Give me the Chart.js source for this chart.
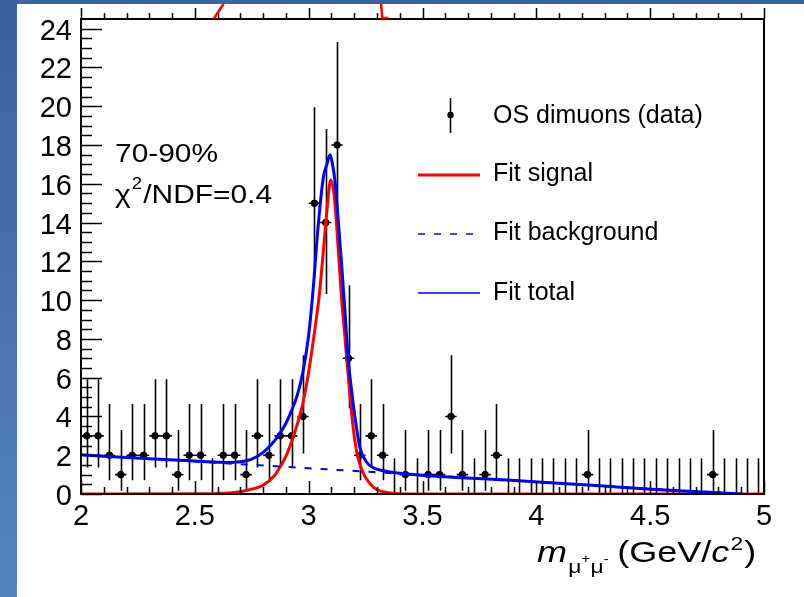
<!DOCTYPE html>
<html>
<head>
<meta charset="utf-8">
<script src="https://cdn.jsdelivr.net/npm/chart.js@4.4.0/dist/chart.umd.min.js"></script>
<style>
  html, body { margin: 0; padding: 0; background: #ffffff; }
  #wrap { position: relative; width: 804px; height: 597px; overflow: hidden; }
  #stripLeft { position: absolute; left: 0; top: 0; width: 17px; height: 597px;
               background: linear-gradient(#3a62a0, #5683bd); }
  #stripTop { position: absolute; left: 0; top: 0; width: 804px; height: 4px; background: #3a64a0; }
  canvas { position: absolute; left: 0; top: 0; }
</style>
</head>
<body>
<div id="wrap">
  <div id="stripLeft"></div>
  <div id="stripTop"></div>
  <canvas id="chartMasa" width="804" height="597"></canvas>
</div>
<script>
// ===== Invariant mass histogram, 70-90% =====

// histogram bins (centres) and counts
const binWidth = 0.05;
const binCenters = [
    2.025, 2.075, 2.125, 2.175, 2.225, 2.275, 2.325, 2.375, 2.425, 2.475,
    2.525, 2.575, 2.625, 2.675, 2.725, 2.775, 2.825, 2.875, 2.925, 2.975,
    3.025, 3.075, 3.125, 3.175, 3.225, 3.275, 3.325, 3.375, 3.425, 3.475,
    3.525, 3.575, 3.625, 3.675, 3.725, 3.775, 3.825, 3.875, 3.925, 3.975,
    4.025, 4.075, 4.125, 4.175, 4.225, 4.275, 4.325, 4.375, 4.425, 4.475,
    4.525, 4.575, 4.625, 4.675, 4.725, 4.775, 4.825, 4.875, 4.925, 4.975
];
const counts = [
    3, 3, 2, 1, 2, 2, 3, 3, 1, 2,
    2, 0, 2, 2, 1, 3, 2, 3, 3, 4,
    15, 14, 18, 7, 2, 3, 2, 0, 1, 0,
    1, 1, 4, 1, 0, 1, 2, 0, 0, 0,
    0, 0, 0, 0, 1, 0, 0, 0, 0, 0,
    0, 0, 0, 0, 0, 1, 0, 0, 0, 0
];

// Poisson 68% intervals for the counts that appear
const poissonLo = { 0: 0, 1: 0.17, 2: 0.71, 3: 1.37, 4: 2.09, 7: 4.42, 14: 10.31, 15: 11.17, 18: 13.80 };
const poissonHi = { 0: 1.84, 1: 3.30, 2: 4.64, 3: 5.92, 4: 7.16, 7: 10.77, 14: 18.83, 15: 19.95, 18: 23.32 };

// Fit signal (red)
const signalX = [2.0, 2.5, 2.6, 2.65, 2.7, 2.75, 2.8, 2.85, 2.875, 2.9, 2.925, 2.95, 2.975, 3.0,
                 3.025, 3.047, 3.065, 3.08, 3.097, 3.113, 3.13, 3.145, 3.157, 3.167,
                 3.18, 3.19, 3.2, 3.214, 3.232, 3.25, 3.28, 3.3, 3.35, 3.4, 3.5, 5.0];
const signalY = [0, 0.01, 0.03, 0.05, 0.12, 0.25, 0.45, 0.95, 1.4, 1.95, 2.7, 3.6, 4.7, 6.3,
                 8.3, 10.3, 12.6, 14.6, 16.2, 15.3, 12.6, 10.0, 8.4, 7.0,
                 5.3, 4.0, 3.0, 2.0, 1.3, 0.85, 0.4, 0.22, 0.06, 0.01, 0, 0];

// Fit background (blue dashed)
const bkgX = [2.0, 2.5, 3.0, 3.5, 4.0, 4.5, 4.9];
const bkgY = [2.02, 1.68, 1.33, 0.98, 0.63, 0.27, 0.0];

// Fit total (blue)
const totalX = [2.0, 2.3, 2.5, 2.6, 2.65, 2.7, 2.75, 2.8, 2.85, 2.875, 2.9, 2.925, 2.95, 2.975,
                3.0, 3.02, 3.04, 3.064, 3.08, 3.094, 3.105, 3.116, 3.13, 3.145, 3.16, 3.174,
                3.19, 3.203, 3.225, 3.254, 3.28, 3.313, 3.4, 3.87, 4.28, 4.54, 4.9];
const totalY = [2.02, 1.82, 1.70, 1.64, 1.62, 1.66, 1.80, 2.15, 2.75, 3.15, 3.65, 4.3, 5.1, 6.3,
                8.2, 10.6, 13.6, 16.3, 17.0, 17.5, 17.0, 16.1, 14.1, 11.8, 9.3, 6.9,
                5.2, 4.0, 2.4, 1.65, 1.38, 1.24, 1.07, 0.72, 0.42, 0.22, 0.0];

// pieces of the red curve of the panel above (x values)
const upperRedLeft = [2.582, 2.626];
const upperRedRight = [3.318, 3.323, 3.35];

const fuente = '"Liberation Sans", Arial, Helvetica, sans-serif';

function pares(xs, ys) {
    return xs.map((x, i) => ({ x: x, y: ys[i] }));
}

// Plugin: error bars, frame, ROOT-like ticks, legend and labels
const estiloRoot = {
    id: 'estiloRoot',
    beforeDatasetsDraw(chart) {
        const ctx = chart.ctx;
        const xs = chart.scales.x, ys = chart.scales.y;
        ctx.save();
        ctx.strokeStyle = '#000';
        ctx.lineWidth = 1.6;
        binCenters.forEach((c, i) => {
            const n = counts[i];
            const px = Math.round(xs.getPixelForValue(c)) + 0.5;
            ctx.beginPath();
            ctx.moveTo(px, ys.getPixelForValue(poissonLo[n]));
            ctx.lineTo(px, ys.getPixelForValue(poissonHi[n]));
            if (n > 0) {
                const py = ys.getPixelForValue(n);
                ctx.moveTo(xs.getPixelForValue(c - binWidth / 2), py);
                ctx.lineTo(xs.getPixelForValue(c + binWidth / 2), py);
            }
            ctx.stroke();
        });
        ctx.restore();
    },
    afterDatasetsDraw(chart) {
        const ctx = chart.ctx;
        const a = chart.chartArea;
        const xs = chart.scales.x, ys = chart.scales.y;
        ctx.save();
        ctx.strokeStyle = '#000';
        ctx.lineWidth = 1.5;
        // y ticks
        for (let k = 0; k <= 48; k++) {
            const py = Math.round(ys.getPixelForValue(k * 0.5)) + 0.5;
            const len = k % 4 === 0 ? 21 : 11;
            ctx.beginPath();
            ctx.moveTo(a.left, py);
            ctx.lineTo(a.left + len, py);
            ctx.stroke();
        }
        // x ticks (bottom, up) and ticks of the panel above
        for (let k = 0; k <= 30; k++) {
            const px = Math.round(xs.getPixelForValue(2 + k * 0.1)) + 0.5;
            const major = k % 5 === 0;
            ctx.beginPath();
            ctx.moveTo(px, a.bottom);
            ctx.lineTo(px, a.bottom - (major ? 13 : 7));
            ctx.moveTo(px, a.top);
            ctx.lineTo(px, a.top - (major ? 11 : 6));
            ctx.stroke();
        }
        // frame
        ctx.lineWidth = 2;
        ctx.strokeRect(a.left, a.top, a.right - a.left, a.bottom - a.top);
        // red curve of the panel above
        ctx.strokeStyle = '#ff0000';
        ctx.lineWidth = 2.5;
        ctx.beginPath();
        ctx.moveTo(xs.getPixelForValue(upperRedLeft[0]), a.top);
        ctx.lineTo(xs.getPixelForValue(upperRedLeft[1]), 4);
        ctx.stroke();
        ctx.beginPath();
        ctx.moveTo(xs.getPixelForValue(upperRedRight[0]), 4);
        ctx.lineTo(xs.getPixelForValue(upperRedRight[1]), a.top - 1);
        ctx.lineTo(xs.getPixelForValue(upperRedRight[2]), a.top - 1);
        ctx.stroke();
        ctx.restore();
    },
    afterDraw(chart) {
        const ctx = chart.ctx;
        ctx.save();
        ctx.fillStyle = '#000';
        ctx.textBaseline = 'alphabetic';

        // Leyenda
        ctx.font = '25px ' + fuente;
        ctx.strokeStyle = '#000';
        ctx.lineWidth = 1.6;
        ctx.beginPath();
        ctx.moveTo(450.5, 98);
        ctx.lineTo(450.5, 133);
        ctx.stroke();
        ctx.beginPath();
        ctx.arc(450.5, 115, 3.2, 0, Math.PI * 2);
        ctx.fill();
        ctx.fillText('OS dimuons (data)', 493, 123);

        ctx.strokeStyle = '#ff0000';
        ctx.lineWidth = 3;
        ctx.beginPath();
        ctx.moveTo(418, 175);
        ctx.lineTo(480, 175);
        ctx.stroke();
        ctx.fillText('Fit signal', 493, 181);

        ctx.strokeStyle = '#0000ff';
        ctx.lineWidth = 1.6;
        ctx.setLineDash([7, 9]);
        ctx.beginPath();
        ctx.moveTo(418, 234);
        ctx.lineTo(480, 234);
        ctx.stroke();
        ctx.setLineDash([]);
        ctx.fillText('Fit background', 493, 240);

        ctx.beginPath();
        ctx.moveTo(418, 293);
        ctx.lineTo(480, 293);
        ctx.stroke();
        ctx.fillText('Fit total', 493, 300);

        // Centrality and fit quality (ROOT text is a bit wider)
        ctx.save();
        ctx.translate(115, 0);
        ctx.scale(1.15, 1);
        ctx.font = '26px ' + fuente;
        ctx.fillText('70-90%', 0, 162);
        let x = 0;
        ctx.fillText('\u03c7', x, 203);
        x += ctx.measureText('\u03c7').width + 1;
        ctx.font = '16px ' + fuente;
        ctx.fillText('2', x, 189);
        x += ctx.measureText('2').width + 1;
        ctx.font = '26px ' + fuente;
        ctx.fillText('/NDF=0.4', x, 203);
        ctx.restore();

        // Axis title
        ctx.save();
        ctx.translate(537, 0);
        ctx.scale(1.2, 1);
        x = 0;
        const base = 562;
        ctx.font = 'italic 30px ' + fuente;
        ctx.fillText('m', x, base);
        x += ctx.measureText('m').width + 1;
        ctx.font = '19px ' + fuente;
        ctx.fillText('\u03bc', x, base + 11);
        x += ctx.measureText('\u03bc').width;
        ctx.font = '13px ' + fuente;
        ctx.fillText('+', x, base + 1);
        x += ctx.measureText('+').width;
        ctx.font = '19px ' + fuente;
        ctx.fillText('\u03bc', x, base + 11);
        x += ctx.measureText('\u03bc').width;
        ctx.font = '13px ' + fuente;
        ctx.fillText('-', x, base + 1);
        x += ctx.measureText('-').width + 7;
        ctx.font = '30px ' + fuente;
        ctx.fillText('(GeV/', x, base);
        x += ctx.measureText('(GeV/').width;
        ctx.font = 'italic 30px ' + fuente;
        ctx.fillText('c', x, base);
        x += ctx.measureText('c').width + 1;
        ctx.font = '19px ' + fuente;
        ctx.fillText('2', x, base - 12);
        x += ctx.measureText('2').width + 1;
        ctx.font = '30px ' + fuente;
        ctx.fillText(')', x, base);
        ctx.restore();
        ctx.restore();
    }
};

document.addEventListener('DOMContentLoaded', function() {
    const ctxMasa = document.getElementById('chartMasa');
    new Chart(ctxMasa, {
        type: 'scatter',
        data: {
            datasets: [
                {
                    label: 'Fit total',
                    type: 'line',
                    data: pares(totalX, totalY),
                    borderColor: '#0000ff',
                    borderWidth: 3,
                    pointRadius: 0,
                    fill: false,
                    cubicInterpolationMode: 'monotone',
                    order: 0
                },
                {
                    label: 'Fit background',
                    type: 'line',
                    data: pares(bkgX, bkgY),
                    borderColor: '#0000ff',
                    borderWidth: 2,
                    borderDash: [7, 9],
                    pointRadius: 0,
                    fill: false,
                    order: 1
                },
                {
                    label: 'Fit signal',
                    type: 'line',
                    data: pares(signalX, signalY),
                    borderColor: '#ff0000',
                    borderWidth: 3,
                    pointRadius: 0,
                    fill: false,
                    cubicInterpolationMode: 'monotone',
                    order: 2
                },
                {
                    label: 'OS dimuons (data)',
                    data: pares(binCenters, counts),
                    backgroundColor: '#000',
                    borderColor: '#000',
                    pointRadius: function(context) {
                        return counts[context.dataIndex] > 0 ? 3.3 : 0;
                    },
                    pointHoverRadius: 0,
                    order: 3
                }
            ]
        },
        options: {
            responsive: false,
            animation: false,
            events: [],
            layout: { padding: { top: 19, right: 40, left: 0, bottom: 0 } },
            plugins: {
                legend: { display: false },
                tooltip: { enabled: false }
            },
            scales: {
                x: {
                    type: 'linear',
                    min: 2,
                    max: 5,
                    grid: { display: false, drawTicks: false },
                    border: { display: false },
                    ticks: {
                        stepSize: 0.5,
                        includeBounds: false,
                        color: '#000',
                        padding: 6,
                        maxRotation: 0,
                        font: { family: fuente, size: 29 },
                        callback: function(value) { return String(value); }
                    },
                    afterFit: function(scale) {
                        scale.height = 103;
                        scale.paddingLeft = 0;
                        scale.paddingRight = 0;
                    }
                },
                y: {
                    min: 0,
                    max: 24.5,
                    grid: { display: false, drawTicks: false },
                    border: { display: false },
                    ticks: {
                        stepSize: 2,
                        includeBounds: false,
                        color: '#000',
                        padding: 9,
                        labelOffset: 3,
                        font: { family: fuente, size: 29 }
                    },
                    afterFit: function(scale) {
                        scale.width = 81;
                        scale.paddingTop = 0;
                        scale.paddingBottom = 0;
                    }
                }
            }
        },
        plugins: [estiloRoot]
    });
});
</script>
</body>
</html>
